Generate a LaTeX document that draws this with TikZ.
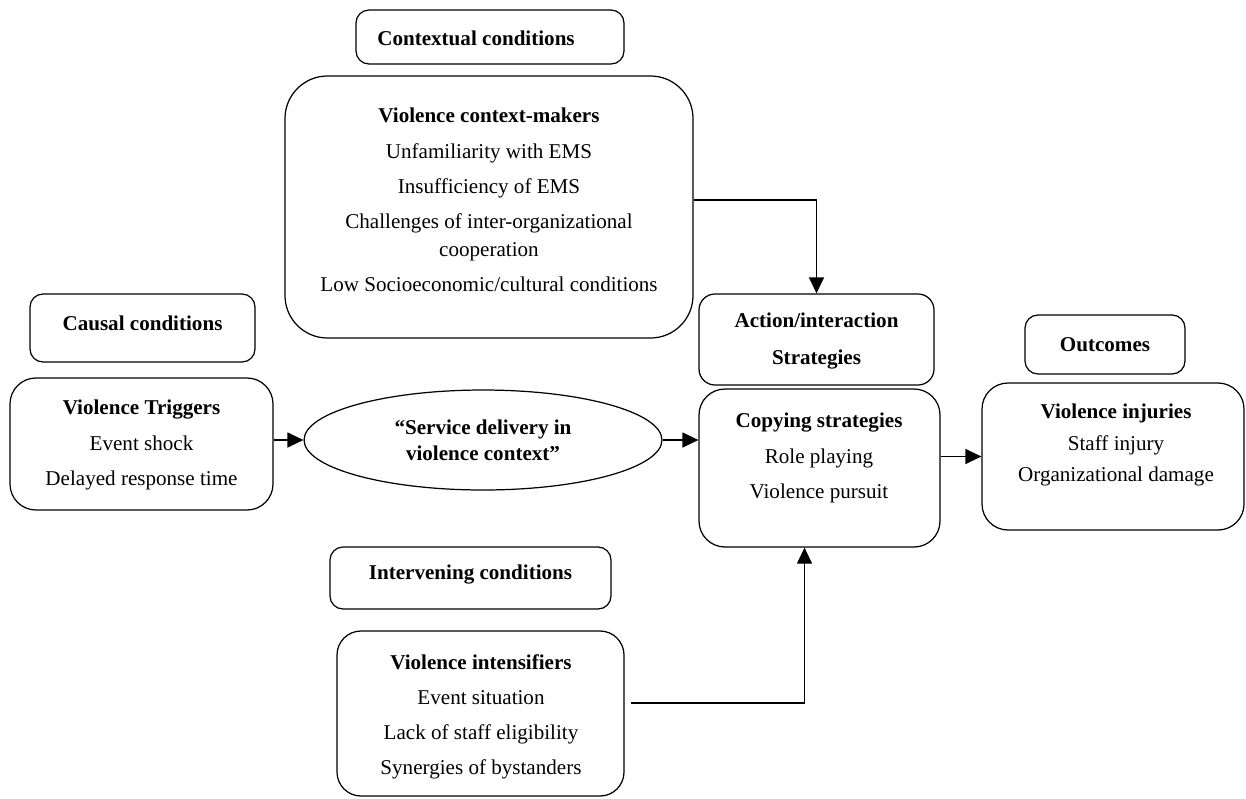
\documentclass[tikz,border=0pt]{standalone}
\usepackage{fontspec}
\setmainfont{Liberation Serif}
\usetikzlibrary{shapes.geometric}
\usetikzlibrary{positioning}
\usetikzlibrary{calc}
\usetikzlibrary{arrows.meta}
\usetikzlibrary{fit}

\tikzset{
  headbox/.style={draw, line width=0.7pt, rounded corners=0.26cm, inner sep=0pt},
  mainbox/.style={draw, line width=0.7pt, rounded corners=0.52cm, inner sep=0pt},
  boxtext/.style={align=center, font=\fontsize{12}{20}\selectfont, inner sep=0pt},
  flow/.style={line width=0.7pt, -{Triangle[length=0.32cm, width=0.3cm]}}
}

\begin{document}
\begin{tikzpicture}[x=0.02cm, y=-0.02cm]

\useasboundingbox (0,0) rectangle (1246,798);

%---------------------------------------
% Contextual conditions
%---------------------------------------
\node[headbox, fit={(356,10) (624,64)}] (ctxhead) {};
\node[boxtext] (ctxheadT) at (476,38) {\textbf{Contextual conditions}};

\node[mainbox, rounded corners=0.85cm, fit={(285,76) (693,338)}] (ctx) {};
\node[boxtext] (ctxT) at (489,200)
  {\textbf{Violence context-makers}\\
   Unfamiliarity with EMS\\
   Insufficiency of EMS\\
   Challenges of inter-organizational\\[-4pt]
   cooperation\\
   Low Socioeconomic/cultural conditions};

%---------------------------------------
% Causal conditions
%---------------------------------------
\node[headbox, fit={(30,294) (255,362)}] (cauhead) {};
\node[boxtext] (cauheadT) at (142.5,323) {\textbf{Causal conditions}};

\node[mainbox, fit={(10,378) (273,510)}] (trig) {};
\node[boxtext] (trigT) at (141.5,445)
  {\textbf{Violence Triggers}\\
   Event shock\\
   Delayed response time};

% Core category
\node[draw, ellipse, line width=0.7pt, minimum width=7.16cm, minimum height=2cm,
      inner sep=0pt, boxtext] (svc) at (483,440)
  {\textbf{“Service delivery in}\\[-5pt]\textbf{violence context”}};

%---------------------------------------
% Action/interaction strategies
%---------------------------------------
\node[headbox, rounded corners=0.32cm, fit={(699,294) (934,385)}] (acthead) {};
\node[boxtext] (actheadT) at (816.5,341)
  {\textbf{Action/interaction}\\[1pt]\textbf{Strategies}};

\node[mainbox, fit={(699,389) (940,547)}] (cop) {};
\node[boxtext] (copT) at (819,458)
  {\textbf{Copying strategies}\\
   Role playing\\
   Violence pursuit};

%---------------------------------------
% Outcomes
%---------------------------------------
\node[headbox, fit={(1025,315) (1185,374)}] (outhead) {};
\node[boxtext] (outheadT) at (1105,345) {\textbf{Outcomes}};

\node[mainbox, fit={(982,383) (1244,530)}] (inj) {};
\node[boxtext] (injT) at (1116,445)
  {\textbf{Violence injuries}\\[-1.5pt]
   Staff injury\\[-2.5pt]
   Organizational damage};

%---------------------------------------
% Intervening conditions
%---------------------------------------
\node[headbox, fit={(330,547) (611,609)}] (inthead) {};
\node[boxtext] (intheadT) at (470.5,575) {\textbf{Intervening conditions}};

\node[mainbox, rounded corners=0.48cm, fit={(337,631) (624,796)}] (ints) {};
\node[boxtext] (intsT) at (481,717)
  {\textbf{Violence intensifiers}\\
   Event situation\\
   Lack of staff eligibility\\
   Synergies of bystanders};

%---------------------------------------
% Connectors
%---------------------------------------
\draw[flow] (trig.east |- svc.west) -- (svc.west);
\draw[flow] (svc.east) -- (svc.east -| cop.west);
\draw[flow] (cop.east |- inj.west) -- (inj.west);
\draw[flow] ([yshift=0.14cm]ctx.east) -| (acthead.north);
\draw[flow] ([xshift=0.12cm, yshift=0.21cm]ints.east) -| ([xshift=-0.3cm]cop.south);

\end{tikzpicture}
\end{document}
